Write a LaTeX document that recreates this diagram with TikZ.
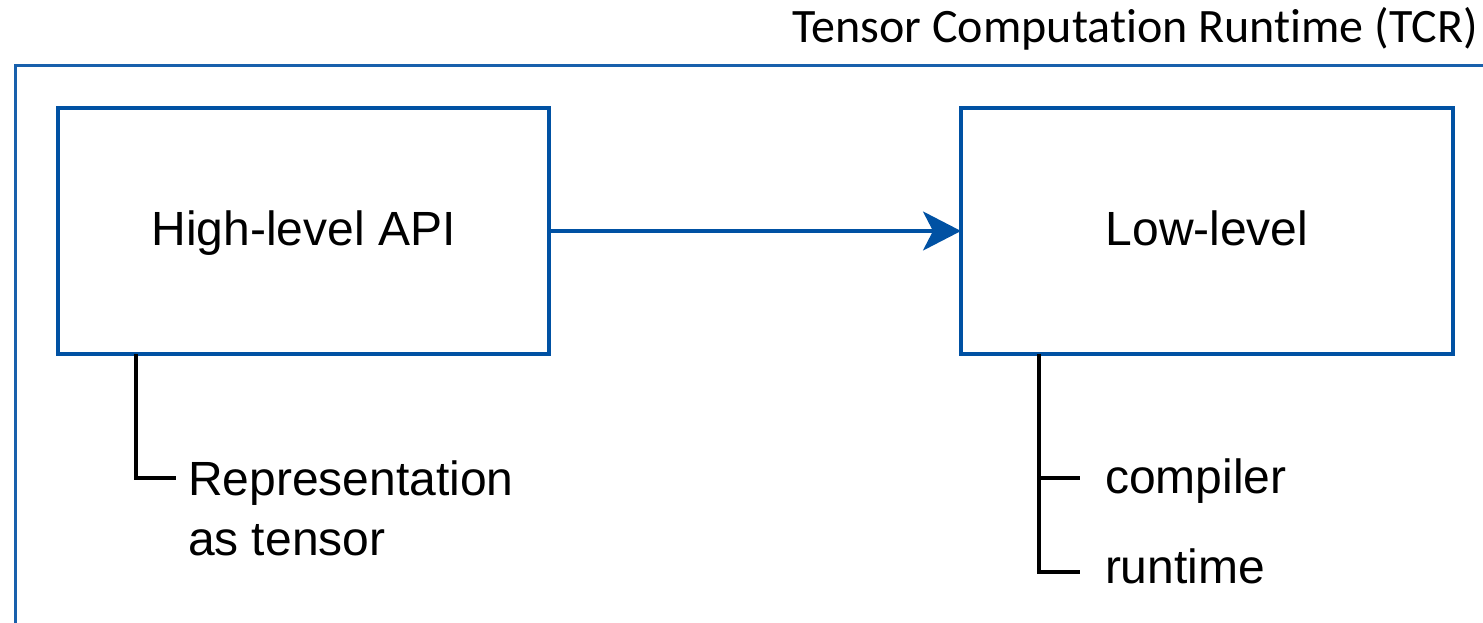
\documentclass[tikz,border=0pt]{standalone}
\usepackage{fontspec}
\setmainfont{Liberation Sans}
\newfontfamily\titlefont[Ligatures={NoCommon,NoRequired,NoContextual},Contextuals={NoAlternate}]{Carlito}
\usetikzlibrary{arrows.meta}
\definecolor{boxblue}{RGB}{0,81,163}
\definecolor{frameblue}{RGB}{24,96,172}
\begin{document}
\begin{tikzpicture}[x=1pt,y=-1pt,
  every node/.style={inner sep=0pt,outer sep=0pt},
  labelfont/.style={font=\fontsize{48}{60}\selectfont},
  blockbox/.style={draw=boxblue,line width=3.6pt,fill=white,labelfont,
    text height=36pt,text depth=7pt},
  flow/.style={draw=boxblue,line width=3.4pt,
    -{Stealth[length=38pt,width=39pt,inset=10pt]}},
  branch/.style={draw=black,line width=3.4pt},
  leaf/.style={labelfont,anchor=base west,align=left}]
  \useasboundingbox (0,0) rectangle (1483,623);
  \clip (0,0) rectangle (1483,623);

  % enclosing runtime frame (runs off the right and bottom edges)
  \coordinate (fbl) at (15.5,660);
  \coordinate (ftl) at (15.5,65.5);
  \coordinate (ftr) at (1520,65.5);
  \draw[frameblue,line width=3pt] (fbl) -- (ftl) -- (ftr);
  % kerns keep t and i as separate glyphs
  \node[font=\titlefont\fontsize{48}{56}\selectfont,anchor=base east]
    (title) at (1478,43) {Tensor Computat\kern0pt ion Runt\kern0pt ime (TCR)};

  % the two layers
  \node[blockbox,minimum width=491pt,minimum height=246pt] (hl) at (303.5,231) {High-level API};
  \node[blockbox,minimum width=492pt,minimum height=246pt] (ll) at (1207,231) {Low-level};
  \draw[flow] (hl.east) -- (ll.west);

  % high-level API detail
  \coordinate (hlroot) at (136,354);
  \coordinate (hlknee) at (136,478);
  \coordinate (hlend) at (176,478);
  \draw[branch] (hlroot) -- (hlknee) -- (hlend);
  \node[leaf] (rep) at (188,555) {Representation\\as tensor};

  % low-level detail
  \coordinate (llroot) at (1039,354);
  \coordinate (llmid) at (1039,478);
  \coordinate (llknee) at (1039,572);
  \coordinate (llmidend) at (1080,478);
  \coordinate (llend) at (1080,572);
  \draw[branch] (llroot) -- (llknee) -- (llend);
  \draw[branch] (llmid) -- (llmidend);
  \node[leaf] (comp) at (1105,493) {compiler};
  \node[leaf] (rt) at (1105,583) {runtime};
\end{tikzpicture}
\end{document}
